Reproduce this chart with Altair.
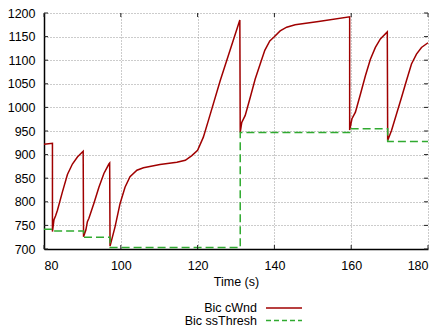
import altair as alt
import pandas as pd

cwnd_t = [80, 82.2, 82.2, 82.6, 83.0, 83.5, 84.8, 86.1, 87.4, 88.7, 90.2,
          90.3, 90.9, 91.3, 91.7, 93.0, 94.3, 95.6, 96.9, 97.1,
          97.2, 98.5, 99.8, 101.1, 102.4, 104.2, 105.9, 110.2, 114.6, 116.8, 118.5, 120.0, 121.5, 122.8, 125.9, 131.0,
          131.1, 131.5, 132.4, 133.7, 135.0, 136.3, 137.5, 138.8, 139.9, 141.5, 143.2, 145.4, 151.5, 159.6,
          159.6, 160.2, 161.1, 162.4, 163.7, 165.0, 166.3, 167.6, 169.4,
          169.5, 170.5, 171.8, 173.1, 174.4, 175.7, 177.0, 178.3, 180.0]
cwnd_v = [922, 924, 737, 762, 770, 782, 821, 858, 880, 895, 907,
          726, 740, 758, 765, 797, 831, 860, 880, 882,
          706, 747, 796, 831, 853, 867, 872, 879, 884, 888, 898, 909, 937, 972, 1057, 1185,
          947, 968, 983, 1021, 1060, 1092, 1121, 1141, 1149, 1162, 1170, 1175, 1182, 1192,
          952, 976, 990, 1028, 1067, 1102, 1127, 1145, 1160,
          930, 951, 986, 1021, 1057, 1092, 1113, 1127, 1137]

ss_t = [80, 82.2, 90.3, 97.2, 131.1, 159.6, 169.5, 180]
ss_v = [742, 738, 725, 703, 947, 955, 928, 928]

x_ticks = [80, 100, 120, 140, 160, 180]
y_ticks = [700, 750, 800, 850, 900, 950, 1000, 1050, 1100, 1150, 1200]
legend_labels = ["Bic cWnd", "Bic ssThresh"]

RED = "#a00000"
GREEN = "#30aa30"
FONT = "Liberation Sans"
W, H = 384, 236

xs = alt.Scale(domain=[80, 180], nice=False, zero=False)
ys = alt.Scale(domain=[700, 1200], nice=False, zero=False)

cw = pd.DataFrame({"t": cwnd_t, "v": cwnd_v, "i": range(len(cwnd_t))})
ss = pd.DataFrame({"t": ss_t, "v": ss_v})

xaxis = alt.Axis(values=x_ticks, title="Time (s)", format="d")
yaxis = alt.Axis(values=y_ticks, title=None, format="d")

X = alt.X("t:Q", scale=xs, axis=xaxis)
Y = alt.Y("v:Q", scale=ys, axis=yaxis)

line = alt.Chart(cw).mark_line(color=RED, strokeWidth=1.5).encode(x=X, y=Y, order="i:Q")
ssl = alt.Chart(ss).mark_line(color=GREEN, strokeWidth=1.5, strokeDash=[8, 4],
                              interpolate="step-after").encode(x=X, y=Y)

ytk = pd.DataFrame({"v": y_ticks})
xtk = pd.DataFrame({"t": x_ticks})
tick_l = alt.Chart(ytk).mark_rule(color="#222222").encode(y=Y, x=alt.value(0), x2=alt.value(4))
tick_r = alt.Chart(ytk).mark_rule(color="#222222").encode(y=Y, x=alt.value(W - 4), x2=alt.value(W))
tick_b = alt.Chart(xtk).mark_rule(color="#222222").encode(x=X, y=alt.value(H - 4), y2=alt.value(H))
tick_t = alt.Chart(xtk).mark_rule(color="#222222").encode(x=X, y=alt.value(0), y2=alt.value(4))

leg1 = pd.DataFrame({"label": [legend_labels[0]]})
leg2 = pd.DataFrame({"label": [legend_labels[1]]})
txt1 = alt.Chart(leg1).mark_text(align="right", baseline="middle", font=FONT, fontSize=12.5,
                                 color="black").encode(x=alt.value(213), y=alt.value(295), text="label:N")
txt2 = alt.Chart(leg2).mark_text(align="right", baseline="middle", font=FONT, fontSize=12.5,
                                 color="black").encode(x=alt.value(213), y=alt.value(307.5), text="label:N")
sw1 = alt.Chart(leg1).mark_rule(color=RED, strokeWidth=1.5).encode(
    x=alt.value(222), x2=alt.value(258), y=alt.value(295))
sw2 = alt.Chart(leg2).mark_rule(color=GREEN, strokeWidth=1.5, strokeDash=[5, 3]).encode(
    x=alt.value(222), x2=alt.value(258), y=alt.value(307.5))

chart = alt.layer(line, ssl, tick_l, tick_r, tick_b, tick_t, txt1, txt2, sw1, sw2).properties(
    width=W, height=H,
    autosize=alt.AutoSizeParams(type="none"),
    padding={"left": 36, "top": 5, "right": 6, "bottom": 80},
).configure_view(stroke=None).configure_axis(
    grid=True, gridDash=[1, 2], gridColor="#999999",
    ticks=False, domainColor="black", domainWidth=1.5,
    labelFont=FONT, labelFontSize=12.5, labelColor="black",
    titleFont=FONT, titleFontSize=12.5, titleFontWeight="normal", titleColor="black",
).configure_axisX(labelPadding=10, titlePadding=4).configure_axisY(labelPadding=9)

chart.save("out.html", embed_options={"renderer": "svg", "actions": False})
